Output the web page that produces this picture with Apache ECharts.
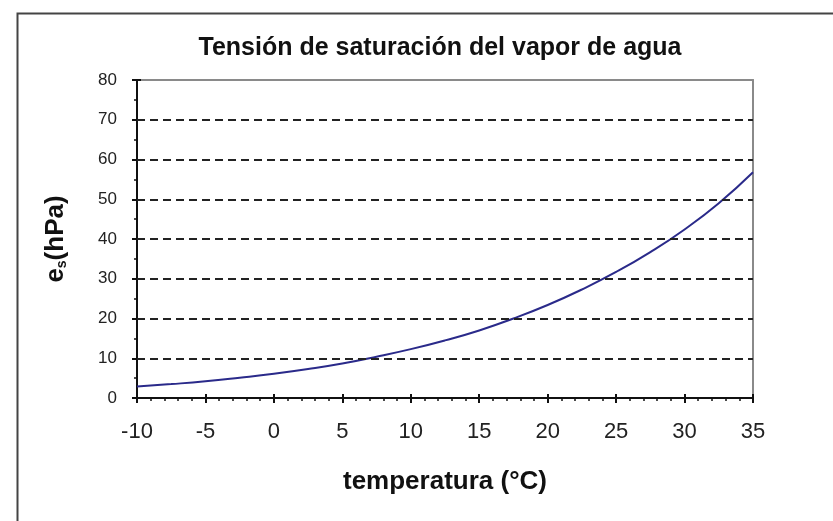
<!DOCTYPE html>
<html><head><meta charset="utf-8">
<script src="https://cdn.jsdelivr.net/npm/echarts@6/dist/echarts.min.js"></script>
<style>html,body{margin:0;padding:0;background:#fff}#c{width:833px;height:521px}</style>
</head><body><div id="c"></div>
<script>
const temperatures = [-10, -7.5, -5, -2.5, 0, 2.5, 5, 7.5, 10, 12.5, 15, 17.5, 20, 22.5, 25, 27.5, 30, 32.5, 35];
const pressures = [2.9, 3.5, 4.2, 5.1, 6.1, 7.3, 8.7, 10.4, 12.3, 14.5, 17.0, 20.0, 23.4, 27.3, 31.7, 36.7, 42.4, 49.0, 56.8];
const xTicks = [-10, -5, 0, 5, 10, 15, 20, 25, 30, 35];
const yTicks = [0, 10, 20, 30, 40, 50, 60, 70, 80];
const gridValues = [10, 20, 30, 40, 50, 60, 70];
const titleText = 'Tensión de saturación del vapor de agua';
const xName = 'temperatura (°C)';

const font = '"Liberation Sans", Arial, sans-serif';
const chart = echarts.init(document.getElementById('c'));
const tickOnly = {axisLine: {show: false, onZero: false}, axisLabel: {show: false}, splitLine: {show: false}};
chart.setOption({
  animation: false,
  backgroundColor: '#fff',
  graphic: [{
    type: 'rect', left: 15, top: 11, shape: {width: 830, height: 520},
    style: {fill: 'none', stroke: '#444', lineWidth: 2}
  }],
  title: {
    text: titleText, left: 435, top: 31, textAlign: 'center',
    textStyle: {fontFamily: font, fontSize: 25, fontWeight: 'bold', color: '#111'}
  },
  grid: {left: 137, right: 80, top: 80, bottom: 123},
  xAxis: [{
    type: 'value', min: -10, max: 35, interval: 5,
    name: xName, nameLocation: 'middle', nameGap: 71,
    nameTextStyle: {fontFamily: font, fontSize: 26, fontWeight: 'bold', color: '#111'},
    axisLine: {lineStyle: {color: '#111', width: 2}},
    axisTick: {length: 5, lineStyle: {color: '#111', width: 2}},
    minorTick: {show: true, splitNumber: 5, length: 3, lineStyle: {color: '#111', width: 1.5}},
    splitLine: {show: false},
    axisLabel: {margin: 23, fontFamily: font, fontSize: 22, color: '#222',
      formatter: v => xTicks.includes(v) ? String(v) : ''}
  }, {
    type: 'value', min: -10, max: 35, interval: 5, position: 'top',
    axisLine: {show: true, onZero: false, lineStyle: {color: '#8a8a8a', width: 2}},
    axisTick: {show: false}, axisLabel: {show: false}, splitLine: {show: false}
  }, Object.assign({
    type: 'value', min: -10, max: 35, interval: 5, position: 'bottom',
    axisTick: {inside: true, length: 4, lineStyle: {color: '#111', width: 2}}
  }, tickOnly)],
  yAxis: [{
    type: 'value', min: 0, max: 80, interval: 10,
    name: '{b|e}{s|s}{b|(hPa)}', nameLocation: 'middle', nameGap: 68, nameRotate: 90,
    nameTextStyle: {fontFamily: font, fontSize: 26, fontWeight: 'bold', color: '#111',
      rich: {b: {fontFamily: font, fontSize: 26, fontWeight: 'bold', color: '#111'},
             s: {fontFamily: font, fontSize: 14, fontWeight: 'bold', color: '#111', verticalAlign: 'bottom', padding: [10, 0, 0, 0]}}},
    axisLine: {show: true, onZero: false, lineStyle: {color: '#111', width: 2}},
    axisTick: {show: true, length: 5, lineStyle: {color: '#111', width: 2}},
    minorTick: {show: true, splitNumber: 2, length: 3, lineStyle: {color: '#111', width: 1.5}},
    splitLine: {show: false},
    axisLabel: {margin: 20, fontFamily: font, fontSize: 17, color: '#222',
      formatter: v => yTicks.includes(v) ? String(v) : ''}
  }, {
    type: 'value', min: 0, max: 80, interval: 10, position: 'right',
    axisLine: {show: true, onZero: false, lineStyle: {color: '#8a8a8a', width: 2}},
    axisTick: {show: false}, axisLabel: {show: false}, splitLine: {show: false}
  }, Object.assign({
    type: 'value', min: 0, max: 80, interval: 10, position: 'left',
    axisTick: {show: true, inside: true, length: 4, lineStyle: {color: '#111', width: 2}}
  }, tickOnly)],
  series: [{
    type: 'line', symbol: 'none', silent: true, data: [],
    markLine: {
      silent: true, symbol: 'none', label: {show: false},
      lineStyle: {color: '#222', width: 2, type: [8, 5]},
      data: gridValues.map(v => ({yAxis: v}))
    }
  }, {
    type: 'line', smooth: true, symbol: 'none',
    data: temperatures.map((t, i) => [t, pressures[i]]),
    lineStyle: {color: '#2a2a8a', width: 2}
  }]
});
</script></body></html>
